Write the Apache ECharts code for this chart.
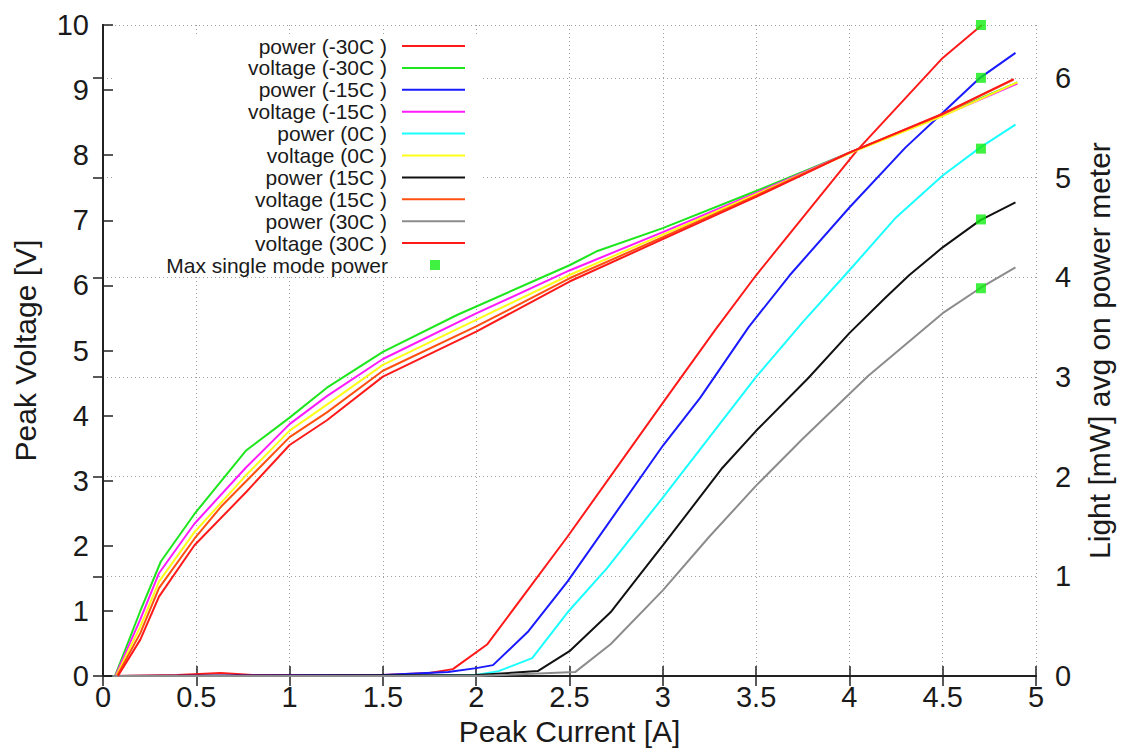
<!DOCTYPE html>
<html><head><meta charset="utf-8">
<script src="https://cdn.jsdelivr.net/npm/echarts@6/dist/echarts.min.js"></script>
<style>html,body{margin:0;padding:0;background:#fff}#c{width:1122px;height:751px}</style>
</head><body><div id="c"></div>
<script>
// ---- axis ticks ----
const xTicks = [0, 0.5, 1, 1.5, 2, 2.5, 3, 3.5, 4, 4.5, 5];
const yLeftTicks = [0, 1, 2, 3, 4, 5, 6, 7, 8, 9, 10];
const yRightTicks = [0, 1, 2, 3, 4, 5, 6];
const yRightMax = 6.53;

// ---- series names (legend order) ----
const seriesNames = ['power (-30C )', 'voltage (-30C )', 'power (-15C )', 'voltage (-15C )',
  'power (0C )', 'voltage (0C )', 'power (15C )', 'voltage (15C )', 'power (30C )', 'voltage (30C )'];
const markerName = 'Max single mode power';

// ---- data: [current A, value] ----
const powerM30 = [[0.05,0],[0.4,0.01],[0.63,0.03],[0.8,0.01],[1.5,0.01],[1.75,0.03],[1.875,0.07],[2.06,0.32],[2.49,1.4],[3.0,2.74],[3.28,3.47],[3.5,4.02],[4.04,5.27],[4.5,6.2],[4.71,6.53]];
const voltM30 = [[0.064,0],[0.2,1.0],[0.31,1.76],[0.49,2.49],[0.765,3.46],[1.0,3.97],[1.2,4.43],[1.5,4.98],[1.9,5.55],[2.5,6.31],[2.65,6.53],[3.0,6.88],[3.5,7.45],[4.0,8.04],[4.5,8.62],[4.9,9.12]];
const powerM15 = [[0.05,0],[1.5,0.01],[1.85,0.04],[2.0,0.08],[2.09,0.11],[2.28,0.45],[2.49,0.95],[3.0,2.31],[3.2,2.79],[3.46,3.5],[3.68,4.02],[4.0,4.7],[4.3,5.3],[4.5,5.65],[4.7,6.0],[4.89,6.25]];
const voltM15 = [[0.066,0],[0.2,0.87],[0.3,1.58],[0.49,2.34],[0.765,3.2],[1.0,3.87],[1.2,4.3],[1.5,4.87],[2.0,5.57],[2.5,6.23],[3.0,6.82],[3.5,7.42],[4.0,8.04],[4.5,8.61],[4.9,9.1]];
const power0 = [[0.05,0],[1.5,0],[2.0,0.01],[2.12,0.05],[2.30,0.18],[2.49,0.64],[2.70,1.08],[3.0,1.79],[3.5,3.0],[3.75,3.55],[4.0,4.07],[4.25,4.6],[4.5,5.02],[4.7,5.3],[4.89,5.53]];
const volt0 = [[0.07,0],[0.2,0.76],[0.3,1.45],[0.49,2.21],[0.765,3.08],[1.0,3.77],[1.2,4.17],[1.5,4.78],[2.0,5.47],[2.5,6.16],[3.0,6.78],[3.5,7.4],[4.0,8.03],[4.5,8.6],[4.9,9.12]];
const power15 = [[0.05,0],[2.0,0.01],[2.33,0.05],[2.5,0.25],[2.72,0.64],[2.87,1.0],[3.0,1.31],[3.32,2.09],[3.5,2.46],[3.78,2.99],[4.0,3.44],[4.19,3.79],[4.32,4.02],[4.5,4.3],[4.7,4.57],[4.89,4.75]];
const volt15 = [[0.075,0],[0.2,0.66],[0.3,1.35],[0.49,2.11],[0.632,2.6],[1.0,3.67],[1.2,4.05],[1.5,4.69],[2.0,5.37],[2.5,6.11],[3.0,6.74],[3.5,7.38],[4.0,8.04],[4.5,8.63],[4.88,9.16]];
const power30 = [[0.05,0],[2.0,0],[2.53,0.04],[2.72,0.32],[3.0,0.86],[3.25,1.4],[3.5,1.91],[3.75,2.38],[4.1,3.01],[4.5,3.64],[4.7,3.89],[4.89,4.1]];
const volt30 = [[0.08,0],[0.2,0.56],[0.3,1.22],[0.49,2.01],[0.765,2.82],[1.0,3.55],[1.2,3.93],[1.5,4.6],[2.0,5.29],[2.5,6.06],[3.0,6.71],[3.5,7.36],[4.0,8.04],[4.5,8.64],[4.88,9.17]];
const maxSingleMode = [[4.705,6.53],[4.705,6.0],[4.705,5.29],[4.705,4.58],[4.705,3.89]];

const seriesData = [powerM30, voltM30, powerM15, voltM15, power0, volt0, power15, volt15, power30, volt30];
const seriesAxis = [1, 0, 1, 0, 1, 0, 1, 0, 1, 0];
const seriesColors = ['#ff1a1a', '#1ee61e', '#1a1aff', '#ff1aff', '#1affff', '#ffff1a', '#111111', '#ff5010', '#8c8c8c', '#ff1a1a'];

const FONT = '"Liberation Sans", Arial, Helvetica, sans-serif';
const TXT = '#1a1a1a';

const chart = echarts.init(document.getElementById('c'), null, {renderer: 'svg'});

const series = seriesNames.map((n, i) => ({
  name: n, type: 'line', yAxisIndex: seriesAxis[i], data: seriesData[i],
  symbol: 'none', lineStyle: {width: 2, color: seriesColors[i]}, itemStyle: {color: seriesColors[i]},
  animation: false, z: 3 + i * 0.01
}));
series.push({
  name: markerName, type: 'scatter', yAxisIndex: 1, data: maxSingleMode,
  symbol: 'rect', symbolSize: 10, itemStyle: {color: '#11ee11'}, animation: false, z: 4
});

const rowTop = 46, rowStep = 21.9;
const legends = seriesNames.map((n, i) => ({
  data: [n], orient: 'vertical', right: 656, top: rowTop + i * rowStep - 10.5, padding: 0,
  itemWidth: 63, itemHeight: 14, align: 'right', selectedMode: false,
  itemStyle: {opacity: 0}, lineStyle: {width: 2},
  textStyle: {fontSize: 21, lineHeight: 21, fontFamily: FONT, color: TXT, padding: [0, 10, 0, 0]}
}));
legends.push({
  data: [markerName], orient: 'vertical', right: 682, top: rowTop + 10 * rowStep - 10.5, padding: 0,
  itemWidth: 10, itemHeight: 10, align: 'right', icon: 'rect', selectedMode: false,
  textStyle: {fontSize: 21, lineHeight: 21, fontFamily: FONT, color: TXT, padding: [0, 37, 0, 0]}
});

const axisLineStyle = {color: '#222', width: 2};
const gridDotted = {show: true, lineStyle: {color: '#a0a0a0', type: [1, 3], width: 1}};

chart.setOption({
  backgroundColor: '#fff',
  animation: false,
  grid: {left: 103, right: 80, top: 25, bottom: 71, containLabel: false},
  legend: legends,
  graphic: [{type: 'rect', shape: {x: 114, y: 35, width: 366, height: 239}, style: {fill: '#fff'}, z: 1, silent: true}],
  xAxis: [{
    type: 'value', position: 'bottom', min: xTicks[0], max: xTicks[xTicks.length - 1], interval: xTicks[1] - xTicks[0],
    name: 'Peak Current [A]', nameLocation: 'middle', nameGap: 38,
    nameTextStyle: {fontSize: 30, fontFamily: FONT, color: TXT},
    axisLine: {show: true, lineStyle: axisLineStyle},
    axisTick: {show: true, inside: true, length: 10, lineStyle: {color: '#222', width: 1.5}},
    axisLabel: {fontSize: 29, fontFamily: FONT, color: TXT, margin: 6},
    splitLine: gridDotted
  }, {
    type: 'value', position: 'top', min: xTicks[0], max: xTicks[xTicks.length - 1], interval: xTicks[1] - xTicks[0],
    axisLine: {show: true, lineStyle: axisLineStyle},
    axisTick: {show: true, inside: true, length: 10, lineStyle: {color: '#222', width: 1.5}},
    axisLabel: {show: false}, splitLine: {show: false}
  }],
  yAxis: [{
    type: 'value', position: 'left', min: yLeftTicks[0], max: yLeftTicks[yLeftTicks.length - 1], interval: 1,
    name: 'Peak Voltage [V]', nameLocation: 'middle', nameGap: 63,
    nameTextStyle: {fontSize: 30, fontFamily: FONT, color: TXT},
    axisLine: {show: true, lineStyle: axisLineStyle},
    axisTick: {show: true, inside: true, length: 10, lineStyle: {color: '#222', width: 1.5}},
    axisLabel: {fontSize: 29, fontFamily: FONT, color: TXT, margin: 14},
    splitLine: {show: false}
  }, {
    type: 'value', position: 'right', min: yRightTicks[0], max: yRightMax, interval: 1,
    name: 'Light [mW] avg on power meter', nameLocation: 'middle', nameGap: 48, nameRotate: 90,
    nameTextStyle: {fontSize: 30, fontFamily: FONT, color: TXT},
    axisLine: {show: true, lineStyle: axisLineStyle},
    axisTick: {show: true, inside: true, length: 10, lineStyle: {color: '#222', width: 1.5}},
    axisLabel: {fontSize: 29, fontFamily: FONT, color: TXT, margin: 19, showMaxLabel: false,
      formatter: v => (yRightTicks.indexOf(v) >= 0 ? String(v) : '')},
    splitLine: gridDotted
  }],
  series: series
});
</script></body></html>
